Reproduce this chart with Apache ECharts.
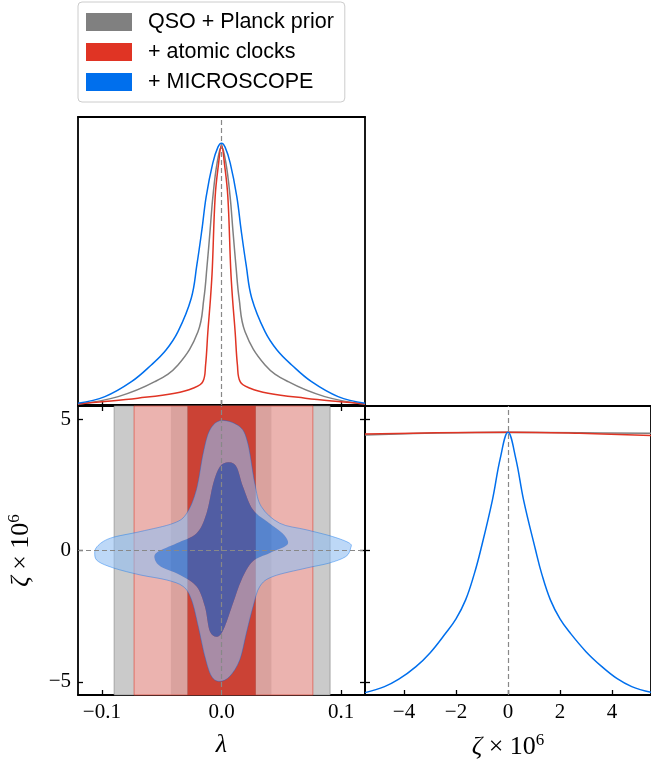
<!DOCTYPE html>
<html>
<head>
<meta charset="utf-8">
<script src="https://cdn.jsdelivr.net/npm/echarts@6.0.0/dist/echarts.min.js"></script>
<style>
html, body { margin: 0; padding: 0; background: #fff; }
#main { width: 651px; height: 765px; }
</style>
</head>
<body>
<div id="main"></div>
<script>
'use strict';

var names = ['QSO + Planck prior', '+ atomic clocks', '+ MICROSCOPE'];

// 1D marginals of lambda, peak normalised  [lambda, P]
var lambdaGray = [[-0.12,0.003],[-0.0864,0.032],[-0.0558,0.089],[-0.0364,0.153],[-0.0197,0.28],[-0.0147,0.408],
    [-0.0122,0.525],[-0.0095,0.669],[-0.0072,0.796],[-0.0037,0.924],[0,0.987],
    [0.0037,0.924],[0.0072,0.796],[0.0095,0.669],[0.0122,0.525],[0.0147,0.408],[0.0197,0.28],[0.0364,0.153],
    [0.0558,0.089],[0.0864,0.032],[0.12,0.003]];
var lambdaRed = [[-0.12,0.004],[-0.0975,0.013],[-0.07,0.026],[-0.039,0.045],[-0.0239,0.064],[-0.0156,0.089],
    [-0.0133,0.153],[-0.0114,0.28],[-0.0092,0.408],[-0.0077,0.52],[-0.0053,0.796],[-0.0025,0.92],[0,0.994],
    [0.0025,0.92],[0.0053,0.796],[0.0077,0.52],[0.0092,0.408],[0.0114,0.28],[0.0133,0.153],[0.0156,0.089],
    [0.0239,0.064],[0.039,0.045],[0.07,0.026],[0.0975,0.013],[0.12,0.004]];
var lambdaBlue = [[-0.12,0.0065],[-0.0975,0.032],[-0.0753,0.089],[-0.0587,0.153],[-0.0464,0.21],[-0.0364,0.28],
    [-0.0253,0.408],[-0.0206,0.535],[-0.0164,0.669],[-0.0128,0.796],[-0.0073,0.924],[-0.003,0.985],[0,1.0],
    [0.003,0.985],[0.0073,0.924],[0.0128,0.796],[0.0164,0.669],[0.0206,0.535],[0.0253,0.408],[0.0364,0.28],
    [0.0464,0.21],[0.0587,0.153],[0.0753,0.089],[0.0975,0.032],[0.12,0.0065]];

// 1D marginals of zeta x 10^6
var zetaGray = [[-5.5,0.99],[-2.75,0.997],[0,1],[2.75,0.998],[5.5,0.996]];
var zetaRed = [[-5.5,0.993],[-2.75,0.998],[0,1],[2.75,0.996],[5.5,0.988]];
var zetaBlue = [[-5.5,0.009],[-4.75,0.032],[-4.2,0.06],[-3.54,0.108],[-3.0,0.16],[-2.4,0.235],[-2.0,0.29],
    [-1.63,0.362],[-1.3,0.46],[-1.05,0.552],[-0.6,0.742],[-0.3,0.9],[0,1],[0.3,0.9],[0.6,0.742],[1.06,0.552],
    [1.3,0.46],[1.63,0.362],[2.0,0.29],[2.4,0.235],[3.0,0.165],[3.61,0.108],[4.2,0.062],[4.76,0.032],[5.5,0.01]];

// 2D: lambda intervals (68%, 95%) for the runs without zeta constraint
var grayBand68 = [-0.0423, 0.0417];
var grayBand95 = [-0.0898, 0.0908];
var redBand68 = [-0.0284, 0.0286];
var redBand95 = [-0.0731, 0.0764];

// 2D contours of MICROSCOPE run  [lambda, zeta]
var blueOuter = [[0.0,4.95],[0.0153,4.71],[0.022,4.08],[0.0278,2.56],[0.0333,1.67],[0.0486,1.04],[0.0708,0.79],
    [0.093,0.53],[0.107,0.28],[0.108,0.09],[0.104,-0.23],[0.090,-0.48],[0.0708,-0.67],[0.043,-0.99],[0.032,-1.37],
    [0.0264,-2.13],[0.0208,-3.14],[0.0153,-4.16],[0.0069,-4.79],[-0.0014,-4.98],[-0.0083,-4.79],[-0.0139,-4.03],
    [-0.0194,-2.89],[-0.025,-1.88],[-0.032,-1.37],[-0.046,-1.12],[-0.068,-0.93],[-0.090,-0.67],[-0.103,-0.42],
    [-0.106,-0.16],[-0.104,0.15],[-0.093,0.47],[-0.068,0.72],[-0.040,1.04],[-0.029,1.42],[-0.021,2.31],
    [-0.0153,3.70],[-0.0097,4.59]];
var blueInner = [[0.0056,3.36],[0.0125,3.19],[0.018,2.43],[0.0264,1.55],[0.040,1.04],[0.051,0.66],[0.0556,0.34],
    [0.053,0.15],[0.040,-0.10],[0.026,-0.42],[0.0167,-1.12],[0.0097,-2.0],[0.0028,-2.89],[-0.0028,-3.27],
    [-0.0097,-3.08],[-0.0139,-2.13],[-0.0208,-1.37],[-0.0347,-0.93],[-0.051,-0.61],[-0.056,-0.29],[-0.053,-0.04],
    [-0.0375,0.28],[-0.0208,0.66],[-0.0125,1.42],[-0.0069,2.56],[-0.0014,3.19]];

var lambdaTicks = [-0.1, 0, 0.1];
var zetaTicks = [-4, -2, 0, 2, 4];
var zetaSideTicks = [-5, 0, 5];

var serif = 'Liberation Serif';
var minus = function (s) { return String(s).replace('-', '\u2212'); };

function ax(o) {
    var base = {
        type: 'value',
        axisLine: {show: true, onZero: false, lineStyle: {color: '#000', width: 1.8}},
        axisTick: {show: false},
        axisLabel: {show: false},
        splitLine: {show: false}
    };
    return Object.assign(base, o);
}
function ticks(vals) {
    return {show: true, inside: true, length: 5, customValues: vals, lineStyle: {color: '#000', width: 1.3}};
}
function labels(vals, fmt) {
    return {show: true, customValues: vals, formatter: fmt, fontFamily: serif, fontSize: 21, color: '#000', margin: 7};
}

function smoothPath(pts) {
    var n = pts.length;
    var d = 'M' + pts[0][0].toFixed(2) + ' ' + pts[0][1].toFixed(2);
    for (var i = 0; i < n; i++) {
        var p0 = pts[(i - 1 + n) % n], p1 = pts[i], p2 = pts[(i + 1) % n], p3 = pts[(i + 2) % n];
        var c1x = p1[0] + (p2[0] - p0[0]) / 6, c1y = p1[1] + (p2[1] - p0[1]) / 6;
        var c2x = p2[0] - (p3[0] - p1[0]) / 6, c2y = p2[1] - (p3[1] - p1[1]) / 6;
        d += ' C' + c1x.toFixed(2) + ' ' + c1y.toFixed(2) + ' ' + c2x.toFixed(2) + ' ' + c2y.toFixed(2) +
            ' ' + p2[0].toFixed(2) + ' ' + p2[1].toFixed(2);
    }
    return d + ' Z';
}
function signedArea(p) {
    var s = 0;
    for (var i = 0; i < p.length; i++) {
        var j = (i + 1) % p.length;
        s += p[i][0] * p[j][1] - p[j][0] * p[i][1];
    }
    return s;
}

var dash = {type: [5, 3], color: '#888', width: 1.2};
function vline(v) {
    return {silent: true, symbol: 'none', label: {show: false}, lineStyle: dash, data: v};
}

var axisName = {
    fontFamily: serif, fontSize: 26, color: '#000',
    rich: {
        a: {fontFamily: serif, fontStyle: 'italic', fontSize: 26, lineHeight: 30, color: '#000'},
        b: {fontFamily: serif, fontSize: 26, lineHeight: 30, color: '#000'},
        c: {fontFamily: serif, fontSize: 17, verticalAlign: 'top', lineHeight: 17, color: '#000'}
    }
};

var chart = echarts.init(document.getElementById('main'));

var option = {
    animation: false,
    backgroundColor: '#fff',
    legend: {
        orient: 'vertical', left: 78, top: 2,
        itemWidth: 46, itemHeight: 18, itemGap: 8,
        padding: [9, 11, 9, 8],
        borderColor: '#ccc', borderWidth: 1, borderRadius: 4,
        icon: 'rect',
        textStyle: {fontFamily: 'Liberation Sans', fontSize: 21.5, color: '#000', padding: [0, 0, 0, 11]},
        data: [
            {name: names[0], itemStyle: {color: '#808080', borderWidth: 0}},
            {name: names[1], itemStyle: {color: '#E03424', borderWidth: 0}},
            {name: names[2], itemStyle: {color: '#006FED', borderWidth: 0}}
        ]
    },
    grid: [
        {left: 78, top: 117, width: 287, height: 288, outerBoundsMode: 'none'},
        {left: 78, top: 406, width: 287, height: 289, outerBoundsMode: 'none'},
        {left: 365, top: 406, width: 286, height: 289, outerBoundsMode: 'none'}
    ],
    xAxis: [
        ax({gridIndex: 0, min: -0.12, max: 0.12, axisTick: ticks(lambdaTicks)}),
        ax({gridIndex: 0, min: -0.12, max: 0.12, position: 'top'}),
        ax({gridIndex: 1, min: -0.12, max: 0.12, axisTick: ticks(lambdaTicks),
            axisLabel: labels(lambdaTicks, function (v) { return minus(v.toFixed(1)); }),
            name: 'λ', nameLocation: 'middle', nameGap: 37,
            nameTextStyle: {fontFamily: serif, fontStyle: 'italic', fontSize: 26, color: '#000'}}),
        ax({gridIndex: 1, min: -0.12, max: 0.12, position: 'top', axisTick: ticks(lambdaTicks)}),
        ax({gridIndex: 2, min: -5.5, max: 5.5, axisTick: ticks(zetaTicks),
            axisLabel: labels(zetaTicks, function (v) { return minus(v); }),
            name: '{a|ζ}{b| × 10}{c|6}', nameLocation: 'middle', nameGap: 37,
            nameTextStyle: axisName}),
        ax({gridIndex: 2, min: -5.5, max: 5.5, position: 'top'})
    ],
    yAxis: [
        ax({gridIndex: 0, min: 0, max: 1.1}),
        ax({gridIndex: 0, min: 0, max: 1.1, position: 'right'}),
        ax({gridIndex: 1, min: -5.5, max: 5.5, axisTick: ticks(zetaSideTicks),
            axisLabel: labels(zetaSideTicks, function (v) { return minus(v); }),
            name: '{a|ζ}{b| × 10}{c|6}', nameLocation: 'middle', nameGap: 42, nameRotate: 90,
            nameTextStyle: axisName}),
        ax({gridIndex: 1, min: -5.5, max: 5.5, position: 'right', axisTick: ticks(zetaSideTicks)}),
        ax({gridIndex: 2, min: -5.5, max: 5.5, axisTick: ticks(zetaSideTicks)}),
        ax({gridIndex: 2, min: -5.5, max: 5.5, position: 'right'}),
        {type: 'value', gridIndex: 2, min: 0, max: 1.1, show: false}
    ],
    series: []
};

var colors = ['#808080', '#E03424', '#006FED'];
var lam = [lambdaGray, lambdaRed, lambdaBlue];
var zet = [zetaGray, zetaRed, zetaBlue];

lam.forEach(function (d, i) {
    option.series.push({
        name: names[i], type: 'line', xAxisIndex: 0, yAxisIndex: 0, data: d,
        showSymbol: false, smooth: 0.4, z: 3 + i,
        lineStyle: {color: colors[i], width: 1.5}, itemStyle: {color: colors[i]},
        markLine: i === 0 ? vline([{xAxis: 0}]) : undefined
    });
});
zet.forEach(function (d, i) {
    option.series.push({
        name: names[i], type: 'line', xAxisIndex: 4, yAxisIndex: 6, data: d,
        showSymbol: false, smooth: 0.4, z: 3 + i,
        lineStyle: {color: colors[i], width: 1.5}, itemStyle: {color: colors[i]},
        markLine: i === 0 ? vline([{xAxis: 0}]) : undefined
    });
});

function band(r, color, border) {
    return [{xAxis: r[0], itemStyle: {color: color, borderColor: border || 'transparent', borderWidth: border ? 1 : 0}},
            {xAxis: r[1]}];
}

// gray bands (opaque), then red bands (alpha 0.8)
option.series.push({
    name: names[0], type: 'line', xAxisIndex: 2, yAxisIndex: 2, data: [], z: 1,
    markArea: {silent: true, data: [
        band(grayBand95, '#cacaca', 'rgba(128,128,128,0.6)'),
        band(grayBand68, '#7a7a7a')
    ]}
});
option.series.push({
    name: names[1], type: 'line', xAxisIndex: 2, yAxisIndex: 2, data: [], z: 1,
    markArea: {silent: true, data: [
        band([redBand95[0], redBand68[0]], 'rgba(243,173,167,0.8)'),
        band([redBand68[1], redBand95[1]], 'rgba(243,173,167,0.8)'),
        band(redBand68, 'rgba(224,52,36,0.8)'),
        band(redBand95, 'transparent', 'rgba(224,52,36,0.55)')
    ]}
});

option.series.push({
    name: names[2], type: 'custom', xAxisIndex: 2, yAxisIndex: 2, z: 4,
    data: blueOuter,
    encode: {x: 0, y: 1},
    renderItem: function (params, api) {
        if (params.dataIndex !== 0) return null;
        var outer = blueOuter.map(function (p) { return api.coord(p); });
        var inner = blueInner.map(function (p) { return api.coord(p); });
        var hole = inner.slice();
        if (signedArea(outer) * signedArea(hole) > 0) hole.reverse();
        var outerD = smoothPath(outer);
        return {
            type: 'group',
            children: [
                {type: 'path', shape: {pathData: outerD + ' ' + smoothPath(hole)},
                    style: {fill: 'rgba(145,190,242,0.6)'}},
                {type: 'path', shape: {pathData: smoothPath(inner)},
                    style: {fill: 'rgba(0,111,237,0.6)'}},
                {type: 'path', shape: {pathData: outerD},
                    style: {fill: 'none', stroke: 'rgba(0,111,237,0.4)', lineWidth: 1}}
            ]
        };
    },
    markLine: vline([{xAxis: 0}, {yAxis: 0}])
});

chart.setOption(option);
</script>
</body>
</html>
